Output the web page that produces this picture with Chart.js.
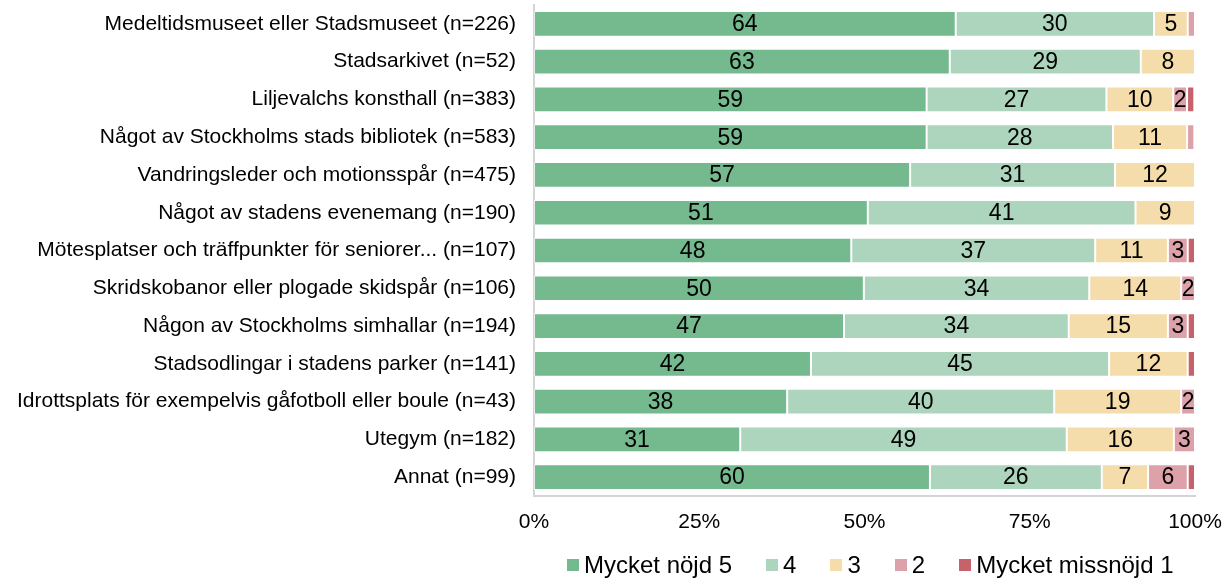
<!DOCTYPE html>
<html>
<head>
<meta charset="utf-8">
<script src="https://cdn.jsdelivr.net/npm/chart.js@4"></script>
<style>
  html, body { margin: 0; padding: 0; background: #fff; }
  #wrap { position: relative; width: 1222px; height: 579px; font-family: "Liberation Sans", Arial, sans-serif; }
  #legend { position: absolute; left: 567px; top: 553px; display: flex; gap: 34px; font-size: 24px; line-height: 24px; color: #000; }
  #legend span.item { display: flex; align-items: center; white-space: nowrap; }
  #legend span.box { display: inline-block; width: 12px; height: 12px; margin-right: 5px; }
</style>
</head>
<body>
<div id="wrap">
  <canvas id="chart" width="1222" height="579"></canvas>
  <div id="legend"></div>
</div>
<script>
// kategorier (etiketter på y-axeln)
const kategorier = [
    'Medeltidsmuseet eller Stadsmuseet (n=226)',
    'Stadsarkivet (n=52)',
    'Liljevalchs konsthall (n=383)',
    'Något av Stockholms stads bibliotek (n=583)',
    'Vandringsleder och motionsspår (n=475)',
    'Något av stadens evenemang (n=190)',
    'Mötesplatser och träffpunkter för seniorer... (n=107)',
    'Skridskobanor eller plogade skidspår (n=106)',
    'Någon av Stockholms simhallar (n=194)',
    'Stadsodlingar i stadens parker (n=141)',
    'Idrottsplats för exempelvis gåfotboll eller boule (n=43)',
    'Utegym (n=182)',
    'Annat (n=99)'
];

// andelar i procent per svarsalternativ
const nojd5 = [63.8, 62.9, 59.4, 59.4, 56.9, 50.5, 48.0, 49.9, 46.9, 41.9, 38.3, 31.2, 59.9];
const varde4 = [30.0, 28.9, 27.2, 28.2, 31.0, 40.5, 36.9, 34.1, 34.0, 45.1, 40.4, 49.4, 26.0];
const varde3 = [5.1, 8.2, 10.1, 11.2, 12.1, 9.0, 11.0, 13.9, 15.0, 11.9, 19.2, 16.2, 7.0];
const varde2 = [1.1, 0, 2.1, 1.1, 0, 0, 3.0, 2.1, 3.0, 0, 2.1, 3.2, 6.0];
const missnojd1 = [0, 0, 1.1, 0, 0, 0, 1.1, 0, 1.1, 1.1, 0, 0, 1.1];

const xTicks = [0, 25, 50, 75, 100];

const serier = [
    { label: 'Mycket nöjd 5', data: nojd5, color: '#75b98e' },
    { label: '4', data: varde4, color: '#add5bd' },
    { label: '3', data: varde3, color: '#f4ddab' },
    { label: '2', data: varde2, color: '#dda1a9' },
    { label: 'Mycket missnöjd 1', data: missnojd1, color: '#c5626c' }
];

// etiketter i staplarna (visas bara om värdet avrundat är minst 2)
const stapelEtiketter = {
    id: 'stapelEtiketter',
    afterDatasetsDraw(chart) {
        const ctx = chart.ctx;
        ctx.save();
        ctx.font = '23px "Liberation Sans", Arial, sans-serif';
        ctx.fillStyle = '#000';
        ctx.textAlign = 'center';
        ctx.textBaseline = 'middle';
        chart.data.datasets.forEach((ds, i) => {
            const meta = chart.getDatasetMeta(i);
            meta.data.forEach((bar, j) => {
                const v = Math.round(ds.data[j]);
                if (v < 2) return;
                const cx = (bar.x + bar.base) / 2;
                ctx.fillText(String(v), cx, bar.y + 1);
            });
        });
        ctx.restore();
    }
};

Chart.defaults.font.family = '"Liberation Sans", Arial, sans-serif';
Chart.defaults.color = '#000';

const chart = new Chart(document.getElementById('chart'), {
    type: 'bar',
    data: {
        labels: kategorier,
        datasets: serier.map(s => ({
            label: s.label,
            data: s.data,
            backgroundColor: s.color,
            borderColor: 'rgba(255,255,255,0.5)',
            borderWidth: 1,
            borderSkipped: false,
            categoryPercentage: 1,
            barPercentage: 0.68
        }))
    },
    options: {
        indexAxis: 'y',
        responsive: false,
        animation: false,
        layout: { padding: { left: 0, right: 0, top: 5, bottom: 30 } },
        scales: {
            x: {
                stacked: true,
                min: 0,
                max: 100,
                afterBuildTicks: axis => { axis.ticks = xTicks.map(v => ({ value: v })); },
                afterFit: s => { s.paddingLeft = 0; s.paddingRight = 27; },
                ticks: {
                    callback: v => v + '%',
                    font: { size: 21, lineHeight: 1 },
                    padding: 16,
                    maxRotation: 0
                },
                grid: { display: false, drawTicks: false },
                border: { display: true, color: '#d4d4d4', width: 2 }
            },
            y: {
                stacked: true,
                afterFit: s => { s.width = 534; s.paddingTop = 0; s.paddingBottom = 0; },
                ticks: { font: { size: 21 }, padding: 18, autoSkip: false },
                grid: { display: false, drawTicks: false },
                border: { display: true, color: '#d4d4d4', width: 2 }
            }
        },
        plugins: {
            legend: { display: false },
            tooltip: { enabled: false }
        }
    },
    plugins: [stapelEtiketter]
});

// förklaring under diagrammet, byggd från serierna
const legendEl = document.getElementById('legend');
chart.data.datasets.forEach(ds => {
    const item = document.createElement('span');
    item.className = 'item';
    const box = document.createElement('span');
    box.className = 'box';
    box.style.background = ds.backgroundColor;
    item.appendChild(box);
    item.appendChild(document.createTextNode(ds.label));
    legendEl.appendChild(item);
});
</script>
</body>
</html>
